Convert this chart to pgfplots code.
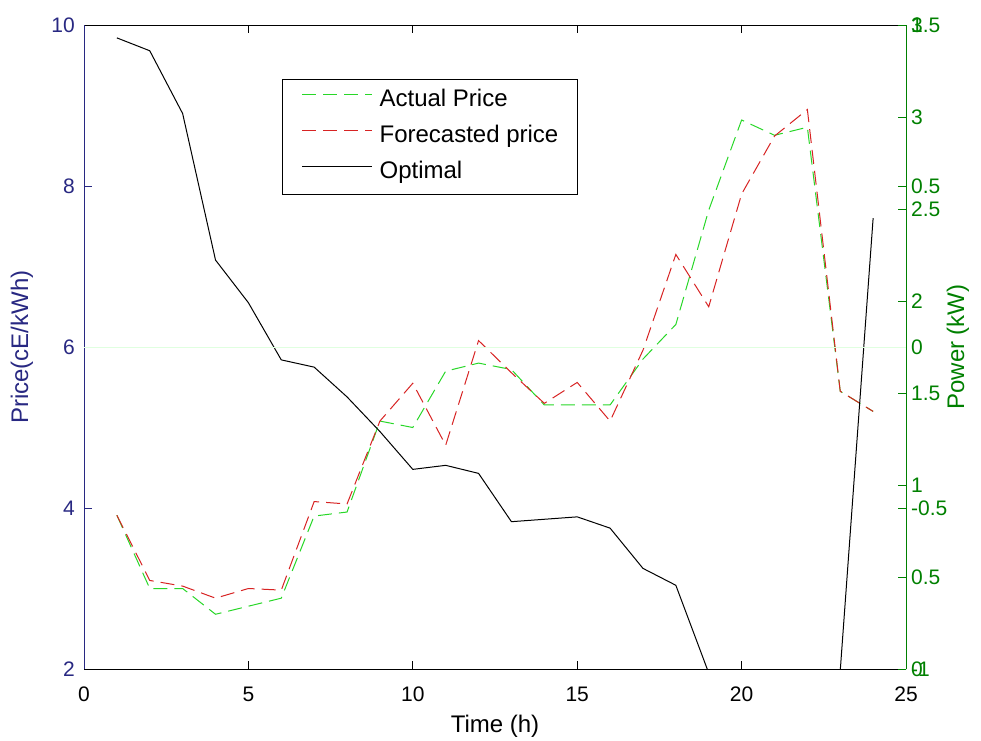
\documentclass[border=0pt]{standalone}
\usepackage{fontspec}
\setmainfont{Liberation Sans}
\usepackage{pgfplots}
\pgfplotsset{compat=1.18}
\definecolor{navyax}{RGB}{40,40,130}
\definecolor{greenax}{RGB}{0,128,0}
\definecolor{actgreen}{RGB}{40,215,40}
\definecolor{fcred}{RGB}{215,35,35}
\newcommand{\lblfont}{\fontsize{24}{28}\selectfont}
\pgfplotsset{
 base/.style={
  scale only axis, width=822pt, height=644pt,
  at={(84pt,71pt)}, anchor=south west,
  xmin=0, xmax=25,
  tick align=inside, major tick length=8pt,
  /pgf/number format/assume math mode=true,
  tick label style={font=\fontsize{21}{25}\selectfont},
  every tick/.style={line width=0.9pt},
  axis line style={line width=1pt},
 },
 rightax/.style={
  base, axis x line=none, axis y line*=right,
  y axis line style={greenax}, y tick style={greenax, line width=0.9pt},
  yticklabel style={greenax, anchor=west, inner sep=0pt, xshift=5pt},
 }
}
\begin{document}
\begin{tikzpicture}
\useasboundingbox (0,0) rectangle (981pt,740pt);
\begin{axis}[base, ymin=2, ymax=10,
  separate axis lines,
  x axis line style={black}, y axis line style={navyax},
  xtick={0,5,10,15,20,25}, xticklabels={0,5,10,15,20,25},
  ytick={2,4,6,8,10}, yticklabels={2,4,6,8,10},
  ytick pos=left,
  y tick style={navyax, line width=0.9pt},
  x tick style={black, line width=0.9pt},
  xticklabel style={anchor=north, inner sep=0pt, yshift=-18pt, black},
  yticklabel style={anchor=east, inner sep=0pt, xshift=-9pt, navyax},
  xlabel={Time (h)}, ylabel={Price(cE/kWh)},
  every axis x label/.style={at={(axis description cs:0.5,0)}, anchor=center, yshift=-57pt, black, font=\lblfont},
  every axis y label/.style={at={(axis description cs:0,0.5)}, anchor=center, rotate=90, yshift=62pt, navyax, font=\lblfont},
  legend cell align=left,
  legend image code/.code={\draw[#1] (0pt,7pt) -- (70pt,7pt);},
  legend style={at={(rel axis cs:0.241,0.916)}, anchor=north west, draw=black, line width=1pt, fill=white,
    inner xsep=19pt, inner ysep=11pt, font=\lblfont, row sep=15pt,
    nodes={inner sep=0pt, text height=16pt, text depth=5pt},
    /tikz/every odd column/.append style={column sep=7pt}},
]
\addplot[actgreen, line width=1pt, dash pattern=on 14pt off 7pt] coordinates {
(1,3.91) (2,3.00) (3,3.00) (4,2.68) (5,2.78) (6,2.88) (7,3.90) (8,3.95)
(9,5.08) (10,5.00) (11,5.70) (12,5.80) (13,5.72) (14,5.28) (15,5.28) (16,5.28)
(17,5.85) (18,6.28) (19,7.70) (20,8.82) (21,8.63) (22,8.73) (23,5.45) (24,5.20)};
\addlegendentry{Actual Price}
\addplot[fcred, line width=1pt, dash pattern=on 14pt off 7pt] coordinates {
(1,3.91) (2,3.10) (3,3.03) (4,2.88) (5,3.00) (6,2.98) (7,4.08) (8,4.05)
(9,5.08) (10,5.55) (11,4.78) (12,6.08) (13,5.68) (14,5.30) (15,5.56) (16,5.08)
(17,5.96) (18,7.15) (19,6.50) (20,7.90) (21,8.62) (22,8.95) (23,5.45) (24,5.20)};
\addlegendentry{Forecasted price}
\addplot[black, line width=1pt] coordinates {
(1,9.84) (2,9.68) (3,8.90) (4,7.08) (5,6.55) (6,5.84) (7,5.75) (8,5.38)
(9,4.95) (10,4.48) (11,4.53) (12,4.43) (13,3.83) (14,3.86) (15,3.89) (16,3.75)
(17,3.25) (18,3.04) (19,1.95) (20,1.00) (21,0.80) (22,1.00) (23,1.98) (24,7.60)};
\addlegendentry{Optimal}
\end{axis}
\begin{axis}[rightax, ymin=-1, ymax=1,
  ytick={-1,-0.5,0,0.5,1}, yticklabels={-1,-0.5,0,0.5,1}]
\addplot[green!12, line width=0.8pt] coordinates {(0,0) (25,0)};
\end{axis}
\begin{axis}[rightax, ymin=0, ymax=3.5,
  ytick={0,0.5,1,1.5,2,2.5,3,3.5}, yticklabels={0,0.5,1,1.5,2,2.5,3,3.5},
  ylabel={Power (kW)},
  every axis y label/.style={at={(axis description cs:1,0.5)}, anchor=center, rotate=90, yshift=-52pt, greenax, font=\lblfont}]
\end{axis}
\end{tikzpicture}
\end{document}
